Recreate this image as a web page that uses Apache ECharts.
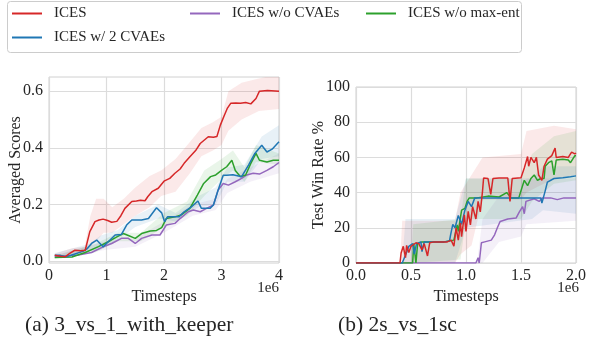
<html>
<head>
    <meta charset="utf-8">
    <title>ICES curves</title>
    <script src="https://cdn.jsdelivr.net/npm/echarts@6/dist/echarts.min.js"></script>
</head>
<body style="margin:0;background:#fff;">
    <div id="main" style="height:350px;width:589px;"></div>
    <script type="text/javascript">
    // (a) 3_vs_1_with_keeper : [timesteps (1e6), averaged score]
    var scoreIces = [[0.1,0.02],[0.2,0.017],[0.28,0.015],[0.36,0.027],[0.45,0.038],[0.55,0.036],[0.63,0.038],[0.71,0.104],[0.8,0.139],[0.87,0.145],[0.94,0.148],[1.02,0.143],[1.09,0.137],[1.18,0.14],[1.25,0.16],[1.32,0.186],[1.44,0.21],[1.52,0.212],[1.59,0.215],[1.67,0.213],[1.72,0.228],[1.79,0.245],[1.9,0.257],[2.0,0.282],[2.1,0.292],[2.19,0.31],[2.28,0.325],[2.35,0.345],[2.45,0.368],[2.55,0.39],[2.63,0.415],[2.77,0.439],[2.86,0.437],[2.92,0.44],[2.98,0.48],[3.05,0.515],[3.1,0.539],[3.16,0.557],[3.25,0.558],[3.33,0.557],[3.42,0.56],[3.51,0.555],[3.6,0.574],[3.66,0.6],[3.8,0.602],[4.0,0.6]];
    var score2Cvaes = [[0.1,0.02],[0.2,0.02],[0.3,0.015],[0.45,0.025],[0.6,0.035],[0.67,0.045],[0.74,0.062],[0.83,0.074],[0.94,0.05],[1.03,0.068],[1.15,0.092],[1.26,0.094],[1.35,0.127],[1.44,0.145],[1.61,0.145],[1.73,0.15],[1.87,0.188],[1.96,0.17],[2.01,0.139],[2.06,0.156],[2.26,0.156],[2.35,0.174],[2.47,0.19],[2.59,0.212],[2.65,0.186],[2.8,0.186],[2.86,0.198],[2.94,0.25],[3.03,0.303],[3.09,0.303],[3.2,0.305],[3.35,0.298],[3.47,0.339],[3.58,0.38],[3.7,0.409],[3.79,0.385],[3.88,0.395],[4.0,0.421]];
    var scoreNoCvaes = [[0.1,0.015],[0.51,0.021],[0.74,0.03],[0.94,0.05],[1.09,0.062],[1.26,0.08],[1.38,0.08],[1.5,0.062],[1.61,0.08],[1.79,0.092],[1.93,0.092],[2.04,0.127],[2.19,0.133],[2.28,0.15],[2.42,0.174],[2.51,0.18],[2.63,0.174],[2.74,0.186],[2.86,0.198],[2.94,0.25],[3.03,0.274],[3.12,0.268],[3.24,0.28],[3.35,0.292],[3.44,0.304],[3.55,0.31],[3.66,0.307],[3.79,0.32],[3.9,0.333],[4.0,0.348]];
    var scoreNoMaxEnt = [[0.1,0.012],[0.4,0.014],[0.63,0.03],[0.86,0.051],[1.03,0.068],[1.18,0.085],[1.29,0.097],[1.38,0.09],[1.5,0.08],[1.61,0.097],[1.76,0.106],[1.87,0.108],[1.96,0.118],[2.04,0.15],[2.19,0.156],[2.3,0.163],[2.45,0.186],[2.58,0.233],[2.69,0.274],[2.81,0.298],[2.9,0.304],[3.0,0.32],[3.09,0.333],[3.18,0.356],[3.24,0.32],[3.33,0.298],[3.42,0.304],[3.51,0.345],[3.6,0.38],[3.66,0.356],[3.79,0.35],[3.9,0.356],[4.0,0.356]];
    // shaded spread : [timesteps, low, high]
    var bandScoreIces = [[0.1,0.012,0.026],[0.4,0.025,0.045],[0.62,0.03,0.05],[0.72,0.05,0.16],[0.82,0.07,0.22],[0.95,0.1,0.22],[1.1,0.1,0.19],[1.3,0.13,0.22],[1.5,0.16,0.26],[1.75,0.19,0.3],[1.95,0.23,0.32],[2.2,0.245,0.36],[2.45,0.31,0.42],[2.65,0.37,0.47],[2.85,0.39,0.49],[3.0,0.41,0.51],[3.12,0.46,0.6],[3.35,0.5,0.63],[3.65,0.53,0.645],[4.0,0.537,0.66]];
    var bandScore2Cvaes = [[0.1,0.012,0.028],[0.7,0.035,0.06],[0.9,0.04,0.09],[1.2,0.075,0.11],[1.5,0.12,0.16],[1.9,0.15,0.2],[2.2,0.14,0.17],[2.6,0.19,0.23],[2.9,0.2,0.26],[3.1,0.28,0.33],[3.4,0.28,0.34],[3.7,0.36,0.44],[4.0,0.37,0.48]];
    var bandScoreNoCvaes = [[0.1,0.01,0.02],[1.0,0.04,0.07],[1.5,0.05,0.08],[2.0,0.1,0.14],[2.5,0.16,0.2],[2.9,0.18,0.22],[3.1,0.24,0.29],[3.5,0.28,0.33],[4.0,0.31,0.38]];
    var bandScoreNoMaxEnt = [[0.1,0.008,0.018],[0.8,0.03,0.06],[1.2,0.07,0.1],[1.6,0.07,0.1],[2.0,0.12,0.17],[2.4,0.16,0.21],[2.7,0.23,0.32],[3.0,0.29,0.36],[3.2,0.32,0.39],[3.4,0.28,0.33],[3.6,0.35,0.41],[4.0,0.34,0.38]];

    // (b) 2s_vs_1sc : [timesteps (1e6), test win rate %]
    var winIces = [[0,0],[0.4,0],[0.41,5.7],[0.43,9.5],[0.45,3],[0.46,10],[0.48,6],[0.5,9.5],[0.515,10.4],[0.545,11.5],[0.57,11],[0.6,7.5],[0.62,11],[0.65,4],[0.67,11.5],[0.71,12],[0.77,12],[0.83,12],[0.865,13],[0.89,9.5],[0.91,20],[0.93,13],[0.95,22.7],[0.96,15],[0.985,27.4],[1.0,18],[1.02,29.3],[1.04,21.7],[1.06,32],[1.09,25],[1.11,35],[1.13,29],[1.15,40.7],[1.16,48.3],[1.2,48],[1.215,48],[1.225,39],[1.245,48],[1.3,48.3],[1.38,48.3],[1.4,35],[1.42,48],[1.5,48.5],[1.53,54],[1.56,60.5],[1.57,55],[1.59,60],[1.62,57],[1.64,60],[1.66,50],[1.69,47],[1.71,55],[1.74,59],[1.78,61],[1.81,65.3],[1.82,60],[1.88,60.5],[1.93,60],[1.96,63],[1.99,62],[2.0,62.5]];
    var win2Cvaes = [[0,0],[0.42,0],[0.44,3],[0.46,6],[0.48,9.5],[0.515,11],[0.53,5],[0.55,11],[0.59,12],[0.6,6.5],[0.62,12],[0.7,12],[0.8,12],[0.85,12.5],[0.86,16],[0.88,22],[0.9,20],[0.93,27],[0.96,22],[0.99,30],[1.02,35],[1.05,32],[1.08,37],[1.2,37],[1.4,37],[1.6,37],[1.68,37],[1.69,34],[1.72,41],[1.74,46],[1.8,48],[1.88,48.5],[1.95,49],[2.0,49.5]];
    var winNoCvaes = [[0,0],[1.09,0],[1.11,3],[1.12,0],[1.14,11.5],[1.17,12],[1.23,13],[1.26,16],[1.285,20],[1.31,23.6],[1.38,25],[1.455,25.5],[1.485,29],[1.515,32],[1.53,28],[1.545,35],[1.62,36.5],[1.665,35],[1.695,37],[1.77,37],[1.83,36],[1.89,37],[2.0,37]];
    var winNoMaxEnt = [[0,0],[0.515,0],[0.525,11],[0.545,0],[0.56,11],[0.6,12],[0.7,12],[0.8,12],[0.89,13],[0.92,21.7],[0.93,18],[0.96,30],[0.99,31],[1.01,35],[1.03,37],[1.1,37],[1.2,38],[1.3,37.5],[1.37,40],[1.41,37],[1.48,37],[1.5,41],[1.53,47],[1.56,44],[1.59,48],[1.62,50],[1.65,47],[1.68,48],[1.71,48],[1.72,55],[1.75,57],[1.78,58],[1.8,50],[1.82,58.5],[1.88,59],[1.93,58.5],[1.95,57],[1.99,61],[2.0,61]];
    var bandWinIces = [[0.4,0,0],[0.42,0,24],[0.9,0,24],[0.95,5,40],[1.05,10,50],[1.15,36,60],[1.5,36,62],[1.55,40,75],[1.8,48,78],[2.0,50,76]];
    var bandWin2Cvaes = [[0.42,0,0],[0.45,0,25],[0.9,0,25],[1.0,20,48],[1.6,25,48],[1.7,30,55],[2.0,28,55]];
    var bandWinNoCvaes = [[1.1,0,0],[1.15,0,25],[1.3,12,38],[1.5,15,40],[1.55,22,48],[2.0,24,48]];
    var bandWinNoMaxEnt = [[0.5,0,0],[0.52,0,22],[0.95,2,25],[1.0,25,48],[1.5,25,48],[1.6,35,62],[1.8,45,72],[2.0,47,75]];

    var names = ['ICES', 'ICES w/ 2 CVAEs', 'ICES w/o CVAEs', 'ICES w/o max-ent'];
    var colors = ['#d62728', '#1f77b4', '#9467bd', '#2ca02c'];
    var yScoreTicks = [0, 0.2, 0.4, 0.6];

    var font = 'Liberation Serif';
    var txt = '#262626';

    function line(name, data, color, i) {
        return {
            name: name, type: 'line', xAxisIndex: i, yAxisIndex: i, data: data,
            symbol: 'none', showSymbol: false, z: 3,
            lineStyle: {color: color, width: 1.5}, itemStyle: {color: color}
        };
    }
    // spread drawn as one polygon: highs forward, lows back
    function band(rows, color, i) {
        return {
            type: 'custom', xAxisIndex: i, yAxisIndex: i, data: rows, silent: true, z: 1, clip: true,
            encode: {x: 0, y: [1, 2]},
            renderItem: function (params, api) {
                if (params.dataIndex !== 0) return;
                var pts = [];
                rows.forEach(function (r) { pts.push(api.coord([r[0], r[2]])); });
                rows.slice().reverse().forEach(function (r) { pts.push(api.coord([r[0], r[1]])); });
                return {type: 'polygon', shape: {points: pts}, style: {fill: color, opacity: 0.1}};
            }
        };
    }

    var series = [
        band(bandScoreIces, colors[0], 0),
        band(bandScore2Cvaes, colors[1], 0),
        band(bandScoreNoCvaes, colors[2], 0),
        band(bandScoreNoMaxEnt, colors[3], 0),
        band(bandWinIces, colors[0], 1),
        band(bandWin2Cvaes, colors[1], 1),
        band(bandWinNoCvaes, colors[2], 1),
        band(bandWinNoMaxEnt, colors[3], 1),
        line(names[2], scoreNoCvaes, colors[2], 0),
        line(names[3], scoreNoMaxEnt, colors[3], 0),
        line(names[1], score2Cvaes, colors[1], 0),
        line(names[0], scoreIces, colors[0], 0),
        line(names[2], winNoCvaes, colors[2], 1),
        line(names[3], winNoMaxEnt, colors[3], 1),
        line(names[1], win2Cvaes, colors[1], 1),
        line(names[0], winIces, colors[0], 1)
    ];

    function legendAt(name, left, top) {
        return {
            data: [name], left: left, top: top, padding: 0, icon: 'rect',
            itemWidth: 30, itemHeight: 2, selectedMode: false,
            textStyle: {fontFamily: font, fontSize: 15, color: txt, padding: [0, 0, 0, 7]}
        };
    }

    var axisText = {fontFamily: font, fontSize: 16, color: txt};
    var splitLine = {show: true, lineStyle: {color: '#dcdcdc', width: 1.2}};

    // rotated y-axis title centred on (x, y)
    function yTitle(text, x, y) {
        return {type: 'text', x: x, y: y, rotation: Math.PI / 2,
                style: {text: text, font: '16px "Liberation Serif"', fill: txt, align: 'center', verticalAlign: 'middle'}};
    }

    var option = {
        animation: false,
        backgroundColor: '#fff',
        textStyle: {fontFamily: font, color: txt},
        legend: [
            legendAt(names[0], 12, 6),
            legendAt(names[1], 12, 30),
            legendAt(names[2], 190, 6),
            legendAt(names[3], 366, 6)
        ],
        grid: [
            {left: 49, top: 77, width: 230, height: 186, show: true, borderColor: '#d0d0d0', borderWidth: 1},
            {left: 356, top: 87, width: 223, height: 176, show: true, borderColor: '#d0d0d0', borderWidth: 1}
        ],
        xAxis: [{
            gridIndex: 0, type: 'value', min: 0, max: 4, interval: 1,
            name: 'Timesteps', nameLocation: 'middle', nameGap: 16, nameTextStyle: axisText,
            axisLine: {show: false}, axisTick: {show: false},
            axisLabel: Object.assign({margin: 5}, axisText), splitLine: splitLine
        }, {
            gridIndex: 1, type: 'value', min: 0, max: 2, interval: 0.5,
            name: 'Timesteps', nameLocation: 'middle', nameGap: 16, nameTextStyle: axisText,
            axisLine: {show: false}, axisTick: {show: false},
            axisLabel: Object.assign({margin: 5, formatter: function (v) { return v.toFixed(1); }}, axisText),
            splitLine: splitLine
        }],
        yAxis: [{
            gridIndex: 0, type: 'value', min: -0.007, max: 0.65,
            axisLine: {show: false},
            axisTick: {show: false, customValues: yScoreTicks},
            axisLabel: Object.assign({margin: 6, customValues: yScoreTicks, formatter: function (v) { return v.toFixed(1); }}, axisText),
            splitLine: splitLine
        }, {
            gridIndex: 1, type: 'value', min: 0, max: 100, interval: 20,
            axisLine: {show: false}, axisTick: {show: false},
            axisLabel: Object.assign({margin: 6}, axisText), splitLine: splitLine
        }],
        graphic: [
            {type: 'rect', left: 7, top: 1, z: -1, shape: {width: 514, height: 51, r: 3},
             style: {fill: '#fff', stroke: '#cccccc', lineWidth: 1}},
            yTitle('Averaged Scores', 15.5, 170),
            yTitle('Test Win Rate %', 319, 175),
            {type: 'text', right: 310, top: 281, style: {text: '1e6', font: '15px "Liberation Serif"', fill: txt}},
            {type: 'text', right: 10, top: 281, style: {text: '1e6', font: '15px "Liberation Serif"', fill: txt}},
            {type: 'text', left: 25, top: 314, style: {text: '(a) 3_vs_1_with_keeper', font: '21.5px "Liberation Serif"', fill: txt}},
            {type: 'text', left: 338, top: 314, style: {text: '(b) 2s_vs_1sc', font: '21.5px "Liberation Serif"', fill: txt}}
        ],
        series: series
    };

    var myChart = echarts.init(document.getElementById('main'));
    myChart.setOption(option);
    </script>
</body>
</html>
